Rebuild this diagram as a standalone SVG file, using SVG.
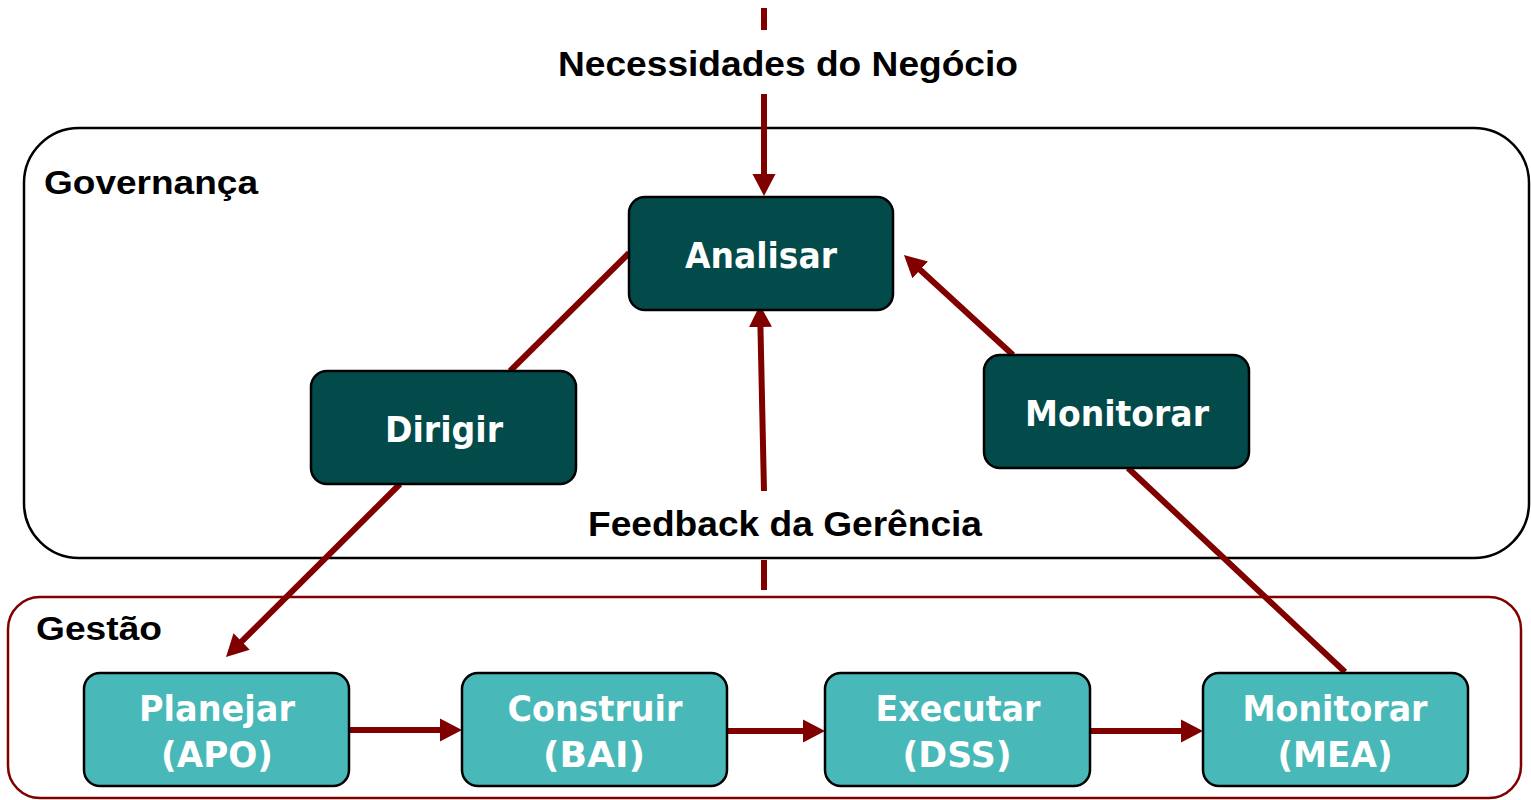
<svg xmlns="http://www.w3.org/2000/svg" width="1531" height="800" viewBox="0 0 1531 800">
<style>
.lbl{font-family:"Liberation Sans",Arial,sans-serif;font-weight:bold;fill:#000;}
.bt{font-family:"DejaVu Sans",Verdana,sans-serif;font-weight:bold;fill:#fff;font-size:36px;text-anchor:middle;}
.dk{fill:#024B4A;stroke:#000;stroke-width:2.5;}
.lt{fill:#48B8B8;stroke:#000;stroke-width:2.5;}
.cn{stroke:#800000;stroke-width:6;fill:none;}
</style>
<defs>
<marker id="ah" markerUnits="userSpaceOnUse" markerWidth="24" markerHeight="24" viewBox="0 0 24 24" refX="2" refY="12" orient="auto">
<path d="M0,0.5 L22,12 L0,23.5 Z" fill="#800000"/>
</marker>
</defs>
<rect width="1531" height="800" fill="#fff"/>
<g id="governanca">
<rect x="24" y="128" width="1505" height="430" rx="55" ry="55" fill="none" stroke="#000" stroke-width="2.5"/>
<text class="lbl" x="44" y="194" font-size="34" textLength="214" lengthAdjust="spacingAndGlyphs">Governança</text>
</g>
<g id="gestao">
<rect x="8" y="597" width="1513" height="201" rx="32" ry="32" fill="none" stroke="#800000" stroke-width="2.5"/>
<text class="lbl" x="36" y="640" font-size="34" textLength="126" lengthAdjust="spacingAndGlyphs">Gestão</text>
</g>
<g id="connectors">
<line class="cn" x1="764" y1="8" x2="764" y2="30"/>
<line class="cn" x1="764" y1="94" x2="764" y2="176" marker-end="url(#ah)"/>
<line class="cn" x1="629" y1="253" x2="510" y2="371"/>
<line class="cn" x1="400" y1="484" x2="240.2" y2="642.9" marker-end="url(#ah)"/>
<line class="cn" x1="764" y1="560" x2="764" y2="590"/>
<line class="cn" x1="764" y1="491" x2="760.4" y2="325" marker-end="url(#ah)"/>
<line class="cn" x1="1345" y1="672" x2="1128" y2="468"/>
<line class="cn" x1="1013" y1="355" x2="918.7" y2="268.5" marker-end="url(#ah)"/>
<line class="cn" x1="349" y1="730" x2="442" y2="730" stroke-width="7" marker-end="url(#ah)"/>
<line class="cn" x1="727" y1="731" x2="805" y2="731" stroke-width="7" marker-end="url(#ah)"/>
<line class="cn" x1="1090" y1="731" x2="1183" y2="731" stroke-width="7" marker-end="url(#ah)"/>
</g>
<g id="lbl-necessidades">
<text class="lbl" x="788" y="76" font-size="35" text-anchor="middle" textLength="460" lengthAdjust="spacingAndGlyphs">Necessidades do Negócio</text>
</g>
<g id="lbl-feedback">
<text class="lbl" x="785" y="536" font-size="35" text-anchor="middle" textLength="394" lengthAdjust="spacingAndGlyphs">Feedback da Gerência</text>
</g>
<g id="analisar">
<rect class="dk" x="629" y="197" width="264" height="113" rx="16"/>
<text class="bt" x="761" y="268" textLength="152" lengthAdjust="spacingAndGlyphs">Analisar</text>
</g>
<g id="dirigir">
<rect class="dk" x="311" y="371" width="265" height="113" rx="16"/>
<text class="bt" x="444" y="442" textLength="118" lengthAdjust="spacingAndGlyphs">Dirigir</text>
</g>
<g id="monitorar">
<rect class="dk" x="984" y="355" width="265" height="113" rx="16"/>
<text class="bt" x="1117" y="426" textLength="184" lengthAdjust="spacingAndGlyphs">Monitorar</text>
</g>
<g id="planejar">
<rect class="lt" x="84" y="673" width="265" height="113" rx="16"/>
<text class="bt" x="217" y="721" textLength="156" lengthAdjust="spacingAndGlyphs">Planejar</text>
<text class="bt" x="217" y="767" textLength="112" lengthAdjust="spacingAndGlyphs">(APO)</text>
</g>
<g id="construir">
<rect class="lt" x="462" y="673" width="265" height="113" rx="16"/>
<text class="bt" x="595" y="721" textLength="175" lengthAdjust="spacingAndGlyphs">Construir</text>
<text class="bt" x="594" y="767" textLength="102" lengthAdjust="spacingAndGlyphs">(BAI)</text>
</g>
<g id="executar">
<rect class="lt" x="825" y="673" width="265" height="113" rx="16"/>
<text class="bt" x="958" y="721" textLength="165" lengthAdjust="spacingAndGlyphs">Executar</text>
<text class="bt" x="957" y="767" textLength="109" lengthAdjust="spacingAndGlyphs">(DSS)</text>
</g>
<g id="monitorar-mea">
<rect class="lt" x="1203" y="673" width="265" height="113" rx="16"/>
<text class="bt" x="1335" y="721" textLength="185" lengthAdjust="spacingAndGlyphs">Monitorar</text>
<text class="bt" x="1335" y="767" textLength="115" lengthAdjust="spacingAndGlyphs">(MEA)</text>
</g>
</svg>
